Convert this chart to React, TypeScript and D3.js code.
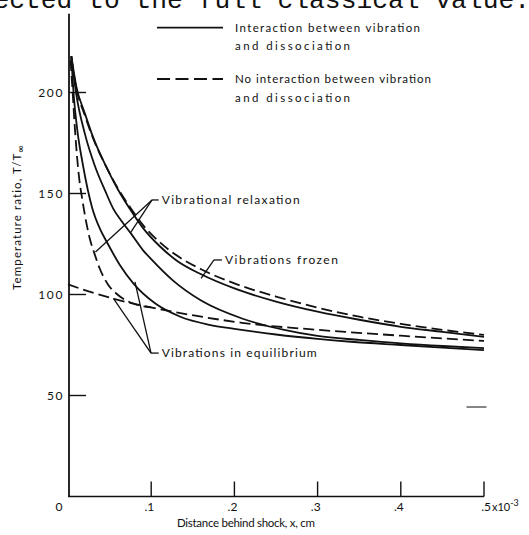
import React from "react";
import * as d3 from "d3";

// ---- data (x in units of 1e-3 cm, T/T∞) ----
const xTicks = [0, 0.1, 0.2, 0.3, 0.4, 0.5];
const xTickLabels = ["0", ".1", ".2", ".3", ".4", ".5"];
const yTicks = [50, 100, 150, 200];
const yTickLabels = ["50", "100", "150", "200"];

const frozenSolid: [number, number][] = [
  [0.004, 218], [0.01, 203], [0.02, 190], [0.03, 178], [0.045, 164], [0.06, 152],
  [0.075, 142], [0.09, 133], [0.11, 124], [0.13, 117], [0.16, 110], [0.2, 103],
  [0.25, 96.5], [0.3, 91.5], [0.35, 87.5], [0.4, 84], [0.45, 81.5], [0.5, 79],
];
const frozenDashed: [number, number][] = [
  [0.004, 217], [0.01, 202], [0.02, 189], [0.03, 177.5], [0.045, 164], [0.06, 152.5],
  [0.075, 143], [0.09, 134.5], [0.11, 126], [0.13, 119.5], [0.16, 112.5], [0.2, 105.5],
  [0.25, 99], [0.3, 93.5], [0.35, 89], [0.4, 85.5], [0.45, 82.5], [0.5, 80],
];
const relaxSolid: [number, number][] = [
  [0.004, 218], [0.01, 199], [0.02, 180], [0.032, 164], [0.045, 151], [0.055, 142],
  [0.065, 136], [0.076, 130], [0.09, 122], [0.1, 117.5], [0.126, 107], [0.16, 97],
  [0.21, 88], [0.26, 82.5], [0.3, 79.5], [0.35, 77.5], [0.4, 75.8], [0.45, 74.5], [0.5, 73.5],
];
const eqSolid: [number, number][] = [
  [0.004, 218], [0.007, 198], [0.011, 182], [0.018, 164], [0.029, 143], [0.039, 132],
  [0.046, 126.5], [0.0625, 114.5], [0.0785, 105.5], [0.105, 95.5], [0.135, 89], [0.17, 85],
  [0.2, 83], [0.25, 80.2], [0.3, 78], [0.34, 76.6], [0.4, 75], [0.45, 73.7], [0.5, 72.5],
];
const relaxDashed: [number, number][] = [
  [0.003, 216], [0.005, 204], [0.008, 184], [0.012, 163], [0.018, 145], [0.026, 128],
  [0.032, 120], [0.038, 113], [0.048, 105], [0.058, 100.5], [0.068, 97.5], [0.08, 95.3], [0.1, 93.6],
];
const eqDashed: [number, number][] = [
  [0, 105], [0.032, 100.6], [0.073, 96], [0.113, 92.5], [0.153, 89.5], [0.209, 86],
  [0.3, 82.5], [0.34, 81.3], [0.4, 79.6], [0.5, 77],
];

const solidSeries = [frozenSolid, relaxSolid, eqSolid];
const dashedSeries = [frozenDashed, relaxDashed, eqDashed];

// annotation labels: knee point, label start, leader end points (data coords)
const annotations = [
  { text: "Vibrational relaxation", knee: [0.101, 146.8], tickEnd: [0.109, 146.8], ends: [[0.033, 121], [0.075, 130.5]], width: 138 },
  { text: "Vibrations frozen", knee: [0.1755, 117.1], tickEnd: [0.185, 117.1], ends: [[0.16, 108]], width: 113 },
  { text: "Vibrations in equilibrium", knee: [0.0998, 71], tickEnd: [0.109, 71], ends: [[0.0545, 98.1], [0.0805, 106.3]], width: 155 },
];
const strayMark: [number, number][] = [[0.479, 44.3], [0.503, 44.3]];

const legendItems = [
  { dashed: false, lines: ["Interaction between vibration", "and dissociation"], widths: [185, 115] },
  { dashed: true, lines: ["No interaction between vibration", "and dissociation"], widths: [196, 115] },
];

const FONT = "Lato, 'DejaVu Sans', sans-serif";

export default function App() {
  const W = 529, H = 535;
  const x = d3.scaleLinear().domain([0, 0.5]).range([68, 484]);
  const y = d3.scaleLinear().domain([0, 200]).range([496.5, 92.5]);
  const line = d3.line<[number, number]>().x(d => x(d[0])).y(d => y(d[1])).curve(d3.curveMonotoneX);
  const ink = "#111";

  return (
    <svg width={W} height={H} viewBox={`0 0 ${W} ${H}`} style={{ position: "absolute", left: 0, top: 0, background: "#fff" }}>
      <rect width={W} height={H} fill="#fff" />
      {/* page text clipped at the top edge, as in the scan */}
      <text x={530} y={7.5} textAnchor="end" fontFamily="'Liberation Mono', monospace" fontSize={26.3} fill={ink}>ected to the full classical value.</text>

      {/* axes */}
      <line x1={69} x2={69} y1={y(0)} y2={y(239)} stroke={ink} strokeWidth={1.8} />
      <line x1={68} x2={x(0.5)} y1={y(0)} y2={y(0)} stroke={ink} strokeWidth={1.6} />
      {yTicks.map((t, i) => (
        <g key={"y" + t}>
          <line x1={69} x2={86} y1={y(t)} y2={y(t)} stroke={ink} strokeWidth={1.4} />
          <text x={64} y={y(t)} dy="0.36em" textAnchor="end" fontFamily={FONT} fontSize={12} letterSpacing={1.6} fill={ink}>{yTickLabels[i]}</text>
        </g>
      ))}
      {xTicks.map((t, i) => (
        <g key={"x" + t}>
          {t > 0 && <line x1={x(t)} x2={x(t)} y1={y(0)} y2={y(0) - 15} stroke={ink} strokeWidth={1.4} />}
          <text x={t === 0 ? x(t) - 9 : x(t) + (t === 0.5 ? 7 : 3)} y={511} textAnchor={t === 0 ? "middle" : "end"} fontFamily={FONT} fontSize={12} fill={ink}>{xTickLabels[i]}</text>
        </g>
      ))}
      <text x={492} y={511} fontFamily={FONT} fontSize={11} fill={ink}>x10<tspan dy={-5} fontSize={9}>-3</tspan></text>
      <text x={246} y={527} textAnchor="middle" fontFamily={FONT} fontSize={11.5} textLength={138} lengthAdjust="spacing" fill={ink}>Distance behind shock, x, cm</text>
      <text transform="translate(21,217) rotate(-90)" textAnchor="middle" fontFamily={FONT} fontSize={11.5} letterSpacing={1.1} fill={ink}>
        Temperature ratio,  T/T<tspan dy={3} fontSize={10}>∞</tspan>
      </text>

      {/* curves */}
      {solidSeries.map((s, i) => (
        <path key={"s" + i} d={line(s) || ""} fill="none" stroke={ink} strokeWidth={1.8} />
      ))}
      {dashedSeries.map((s, i) => (
        <path key={"d" + i} d={line(s) || ""} fill="none" stroke={ink} strokeWidth={1.8} strokeDasharray="11,5" />
      ))}
      <line x1={x(strayMark[0][0])} x2={x(strayMark[1][0])} y1={y(strayMark[0][1])} y2={y(strayMark[1][1])} stroke="#444" strokeWidth={1.3} />

      {/* annotations */}
      {annotations.map((a, i) => (
        <g key={"a" + i}>
          <line x1={x(a.knee[0])} y1={y(a.knee[1])} x2={x(a.tickEnd[0])} y2={y(a.tickEnd[1])} stroke={ink} strokeWidth={1.3} />
          {a.ends.map((e, j) => (
            <line key={j} x1={x(a.knee[0])} y1={y(a.knee[1])} x2={x(e[0])} y2={y(e[1])} stroke={ink} strokeWidth={1.3} />
          ))}
          <text x={x(a.tickEnd[0]) + 3} y={y(a.knee[1])} dy="0.35em" fontFamily={FONT} fontSize={12} textLength={a.width} lengthAdjust="spacing" fill={ink}>{a.text}</text>
        </g>
      ))}

      {/* legend */}
      {legendItems.map((l, i) => {
        const ly = i === 0 ? 27.7 : 79;
        return (
          <g key={"l" + i}>
            <line x1={157} x2={223} y1={ly} y2={ly} stroke={ink} strokeWidth={1.8} strokeDasharray={l.dashed ? "13,5.5" : undefined} />
            {l.lines.map((t, j) => (
              <text key={j} x={235} y={ly + j * 18.5} dy="0.35em" fontFamily={FONT} fontSize={11.5} textLength={l.widths[j]} lengthAdjust="spacing" fill={ink}>{t}</text>
            ))}
          </g>
        );
      })}
    </svg>
  );
}
